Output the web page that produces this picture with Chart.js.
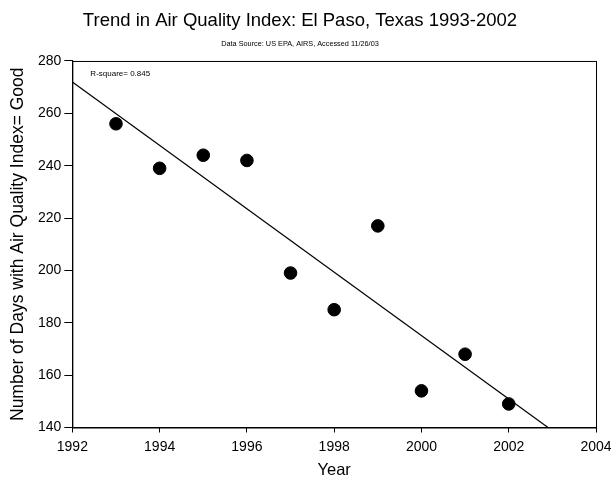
<!DOCTYPE html>
<html><head><meta charset="utf-8">
<script src="https://cdn.jsdelivr.net/npm/chart.js@4/dist/chart.umd.min.js"></script>
<style>html,body{margin:0;padding:0;background:#fff}#wrap{width:611px;height:481px}</style>
</head><body><div id="wrap"><canvas id="c" width="611" height="481"></canvas></div>
<script>
const years = [1993, 1994, 1995, 1996, 1997, 1998, 1999, 2000, 2001, 2002];
const goodDays = [256, 239, 244, 242, 199, 185, 217, 154, 168, 149];
const fitX = [1992, 2002.9];
const fitY = [272, 140];
const xTicks = [1992, 1994, 1996, 1998, 2000, 2002, 2004];
const yTicks = [140, 160, 180, 200, 220, 240, 260, 280];
const rSquareLabel = "R-square= 0.845";

const F = "'Liberation Sans', Arial, sans-serif";

const framePlugin = {
  id: 'frame',
  afterDatasetsDraw(chart) {
    const {ctx, chartArea: a} = chart;
    ctx.save();
    ctx.strokeStyle = '#000';
    ctx.lineWidth = 1;
    ctx.strokeRect(a.left + 0.5, a.top + 0.5, a.right - a.left, a.bottom - a.top);
    ctx.fillStyle = '#000';
    ctx.font = "8px " + F;
    ctx.textBaseline = 'middle';
    ctx.fillText(rSquareLabel, a.left + 18, a.top + 13);
    ctx.restore();
  }
};

new Chart(document.getElementById('c'), {
  type: 'scatter',
  data: {
    datasets: [
      {
        data: years.map((y, i) => ({x: y, y: goodDays[i]})),
        backgroundColor: '#000', borderColor: '#000',
        pointRadius: 6.3, pointHoverRadius: 6.3
      },
      {
        type: 'line',
        data: fitX.map((x, i) => ({x: x, y: fitY[i]})),
        borderColor: '#000', borderWidth: 1.2, pointRadius: 0, fill: false
      }
    ]
  },
  options: {
    responsive: false, animation: false,
    layout: {padding: {left: 4, right: 15, top: 0, bottom: 0}},
    plugins: {
      legend: {display: false}, tooltip: {enabled: false},
      title: {display: true, text: 'Trend in Air Quality Index: El Paso, Texas 1993-2002',
        color: '#000', font: {family: F, size: 18.5, weight: 'normal'}, padding: {top: 10, bottom: 5}},
      subtitle: {display: true, text: 'Data Source: US EPA, AIRS, Accessed 11/26/03',
        color: '#000', font: {family: F, size: 7.3}, padding: {top: 2, bottom: 13}}
    },
    scales: {
      x: {
        type: 'linear', min: 1992, max: 2004,
        afterBuildTicks: s => { s.ticks = xTicks.map(v => ({value: v})); },
        afterFit: s => { s.paddingRight = 0; },
        ticks: {color: '#000', font: {family: F, size: 14, lineHeight: 1}, callback: v => String(v), padding: 8, maxRotation: 0},
        grid: {drawOnChartArea: false, drawTicks: true, tickLength: 5, color: '#000'},
        border: {display: true, color: '#000'},
        title: {display: true, text: 'Year', color: '#000', font: {family: F, size: 16.5, lineHeight: 1}, padding: {top: 0, bottom: 2}}
      },
      y: {
        min: 140, max: 280,
        afterBuildTicks: s => { s.ticks = yTicks.map(v => ({value: v})); },
        ticks: {color: '#000', font: {family: F, size: 14}, callback: v => String(v), padding: 3},
        grid: {drawOnChartArea: false, drawTicks: true, tickLength: 8, color: '#000'},
        border: {display: true, color: '#000'},
        title: {display: true, text: 'Number of Days with Air Quality Index= Good', color: '#000', font: {family: F, size: 17.5}, padding: {bottom: 6}}
      }
    }
  },
  plugins: [framePlugin]
});
</script></body></html>
